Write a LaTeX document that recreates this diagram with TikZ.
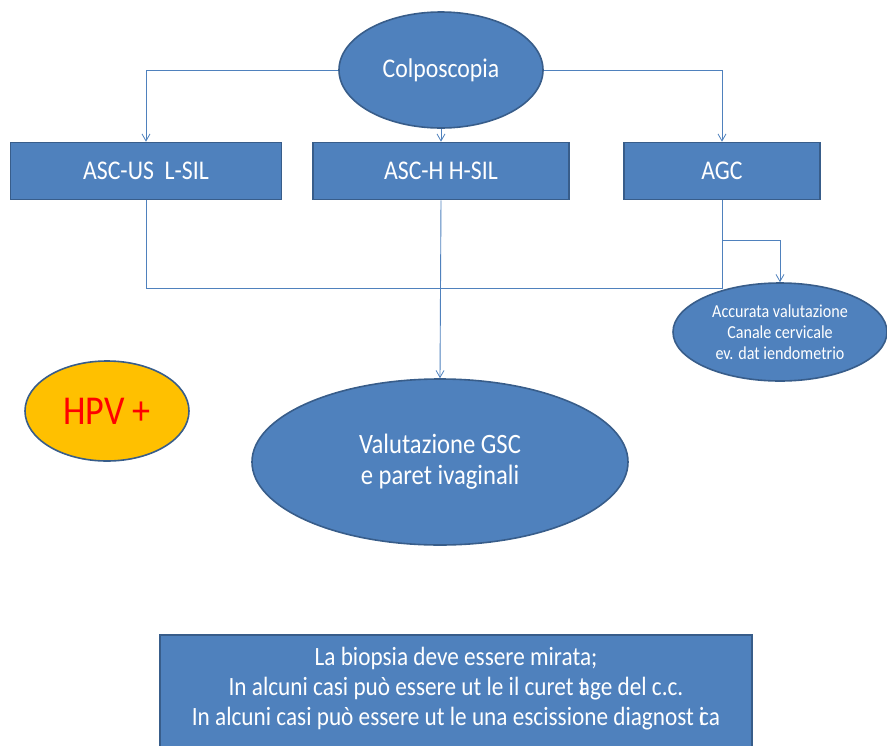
\documentclass[tikz,border=0pt]{standalone}
\usepackage{fontspec}
\setmainfont{Carlito}[FakeStretch=0.88]
\usetikzlibrary{arrows.meta,shapes.geometric}
\definecolor{bfill}{HTML}{4F81BD}
\definecolor{bdraw}{HTML}{385D8A}
\definecolor{lcol}{HTML}{4F81BD}
\definecolor{hpvfill}{HTML}{FFC000}
\begin{document}
\begin{tikzpicture}[x=1pt,y=-1pt,
  ell/.style={ellipse,fill=bfill,draw=bdraw,line width=1.6pt,text=white,align=center,inner sep=0pt},
  rbox/.style={rectangle,fill=bfill,draw=bdraw,line width=1.6pt,text=white,align=center,inner sep=0pt},
  conn/.style={draw=lcol,line width=0.9pt},
  arr/.style={conn,-{Straight Barb[length=7pt,width=8pt,line width=0.8pt]}}]
\useasboundingbox (0,0) rectangle (887,745);
\clip (0,0) rectangle (887,745);

\node[ell,minimum width=204pt,minimum height=116pt,font=\fontsize{27}{30}\selectfont] (colpo) at (441,70) {Colposcopia};

\node[rbox,minimum width=271pt,minimum height=57pt,font=\fontsize{27}{30}\selectfont] (ascus) at (146,171) {ASC-US\ \ L-SIL};
\node[rbox,minimum width=256pt,minimum height=57pt,font=\fontsize{27}{30}\selectfont] (asch) at (441,171) {ASC-H H-SIL};
\node[rbox,minimum width=196pt,minimum height=57pt,font=\fontsize{27}{30}\selectfont] (agc) at (722,171) {AGC};

\node[ell,minimum width=214pt,minimum height=98pt,font=\fontsize{18.3}{21}\selectfont] (accur) at (780,332) {Accurata valutazione\\Canale cervicale\\ev. dat iendometrio};

\node[ellipse,fill=hpvfill,draw=bdraw,line width=1.6pt,minimum width=164pt,minimum height=100pt,text=red,font=\fontsize{41}{44}\selectfont,inner sep=0pt] (hpv) at (107,411) {HPV +};

\node[ell,minimum width=376pt,minimum height=166pt,font=\fontsize{28}{31}\selectfont] (valut) at (440,462) {Valutazione GSC\\e paret ivaginali};

\node[rbox,minimum width=592pt,minimum height=126pt,anchor=north] (biop) at (456,634) {};
\node[text=white,align=center,font=\fontsize{26.4}{30}\selectfont,anchor=north,inner sep=0pt] (bioptext) at (456,647) {La biopsia deve essere mirata;\\In alcuni casi può essere ut le il curet \rlap{t}age del c.c.\\In alcuni casi può essere ut le una escissione diagnost \rlap{i}ca};

% connectors
\draw[arr] (colpo.west) -| (ascus.north);
\draw[arr] (colpo.east) -| (agc.north);
\draw[arr] (colpo.south) -- (asch.north);

\coordinate (jl) at (146,288);
\coordinate (jr) at (722,288);
\coordinate (ja) at (722,240);
\draw[conn] (ascus.south) -- (jl) -- (jr) -- (agc.south);
\draw[arr] (ja) -| (accur.north);
\draw[arr] (asch.south) -- (valut.north);
\end{tikzpicture}
\end{document}
